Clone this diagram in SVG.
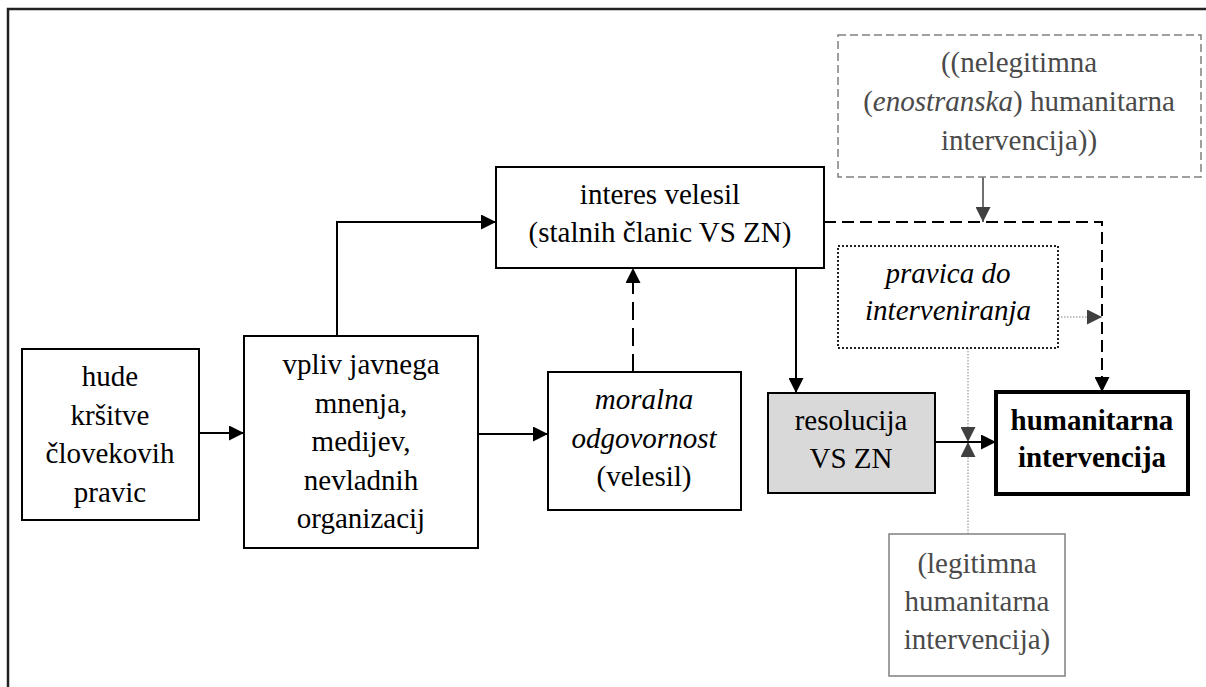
<svg xmlns="http://www.w3.org/2000/svg" width="1206" height="687" viewBox="0 0 1206 687" font-family="'Liberation Serif', 'Times New Roman', 'DejaVu Serif', serif">
<defs>
<style>
text{font-family:'Liberation Serif','Times New Roman','DejaVu Serif',serif;font-size:29px;text-anchor:middle;fill:#000}
.g text{fill:#4a4a4a}
.it{font-style:italic}
.b{font-weight:bold}
.box{fill:#fff;stroke:#000;stroke-width:2}
.ln{fill:none;stroke:#000;stroke-width:2}
.gl{fill:none;stroke:#808080;stroke-width:1;stroke-dasharray:1.5,1.5}
</style>
<marker id="ab" markerWidth="15" markerHeight="15" refX="15" refY="7.5" orient="auto" markerUnits="userSpaceOnUse"><path d="M0,0 L15,7.5 L0,15 z" fill="#000"/></marker>
<marker id="ag" markerWidth="15" markerHeight="15" refX="15" refY="7.5" orient="auto" markerUnits="userSpaceOnUse"><path d="M0,0 L15,7.5 L0,15 z" fill="#404040"/></marker>
</defs>
<rect width="1206" height="687" fill="#fff"/>
<path d="M8,687 V9 H1206" fill="none" stroke="#222" stroke-width="2.5"/>

<g id="connectors">
<line class="ln" x1="199" y1="433" x2="244" y2="433" marker-end="url(#ab)"/>
<path class="ln" d="M337,336 V222 H496" marker-end="url(#ab)"/>
<line class="ln" x1="478" y1="434" x2="548" y2="434" marker-end="url(#ab)"/>
<line class="ln" x1="633" y1="372" x2="633" y2="268" stroke-dasharray="18,8" marker-end="url(#ab)"/>
<line class="ln" x1="796" y1="268" x2="796" y2="393" marker-end="url(#ab)"/>
<path class="ln" d="M824,222 H1102 V392" stroke-width="2.5" stroke-dasharray="12,6" marker-end="url(#ab)"/>
<line x1="983" y1="177" x2="983" y2="222" stroke="#404040" stroke-width="1.5" marker-end="url(#ag)"/>
<line class="gl" x1="1058" y1="317" x2="1102" y2="317" marker-end="url(#ag)"/>
<line class="gl" x1="968" y1="348" x2="968" y2="442" marker-end="url(#ag)"/>
<line class="gl" x1="968" y1="534" x2="968" y2="442" marker-end="url(#ag)"/>
<line class="ln" x1="935" y1="442" x2="996" y2="442" marker-end="url(#ab)"/>
</g>

<g id="n1">
<rect class="box" x="22" y="349" width="177" height="171"/>
<text x="110" y="386">hude</text>
<text x="110" y="425">kršitve</text>
<text x="110" y="463">človekovih</text>
<text x="110" y="502">pravic</text>
</g>
<g id="n2">
<rect class="box" x="244" y="336" width="234" height="212"/>
<text x="361" y="374">vpliv javnega</text>
<text x="361" y="413">mnenja,</text>
<text x="361" y="451">medijev,</text>
<text x="361" y="490">nevladnih</text>
<text x="361" y="528">organizacij</text>
</g>
<g id="n3">
<rect class="box" x="496" y="167" width="328" height="101"/>
<text x="660" y="204">interes velesil</text>
<text x="660" y="242">(stalnih članic VS ZN)</text>
</g>
<g id="n4">
<rect class="box" x="548" y="372" width="193" height="138"/>
<text x="644" y="409" class="it">moralna</text>
<text x="644" y="448" class="it">odgovornost</text>
<text x="644" y="486">(velesil)</text>
</g>
<g id="n5">
<rect class="box" x="768" y="393" width="167" height="100" style="fill:#d9d9d9"/>
<text x="851" y="430">resolucija</text>
<text x="851" y="468">VS ZN</text>
</g>
<g id="n6">
<rect class="box" x="996" y="392" width="192" height="102" style="stroke-width:4"/>
<text x="1092" y="430" class="b">humanitarna</text>
<text x="1092" y="467" class="b">intervencija</text>
</g>
<g id="n7">
<rect x="838" y="246" width="220" height="102" fill="#fff" stroke="#222" stroke-width="2" stroke-dasharray="2,2"/>
<text x="948" y="283" class="it">pravica do</text>
<text x="948" y="320" class="it">interveniranja</text>
</g>
<g id="n8" class="g">
<rect x="838" y="35" width="363" height="142" fill="#fff" stroke="#808080" stroke-width="1.5" stroke-dasharray="8,4"/>
<text x="1019" y="72">((nelegitimna</text>
<text x="1019" y="111">(<tspan class="it">enostranska</tspan>) humanitarna</text>
<text x="1019" y="150">intervencija))</text>
</g>
<g id="n9" class="g">
<rect x="889" y="534" width="176" height="142" fill="#fff" stroke="#808080" stroke-width="1.5"/>
<text x="977" y="573">(legitimna</text>
<text x="977" y="611">humanitarna</text>
<text x="977" y="649">intervencija)</text>
</g>
</svg>
